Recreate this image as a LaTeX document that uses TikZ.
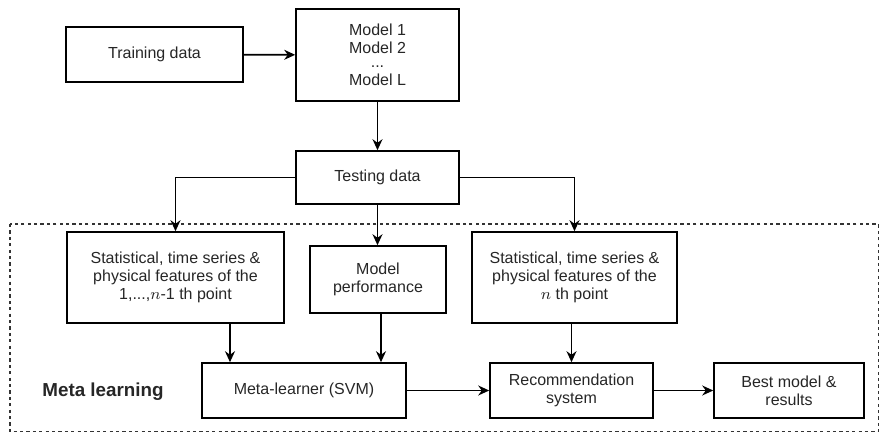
\documentclass[tikz,border=0pt]{standalone}
\usepackage{fontspec}
\setmainfont{Liberation Sans}
\usetikzlibrary{arrows.meta}
\begin{document}
\begin{tikzpicture}[x=0.5pt,y=-0.5pt,
  box/.style={draw, line width=0.8pt, rectangle, align=center, inner sep=0pt,
    font=\fontsize{8}{9}\selectfont},
  conn/.style={line width=0.8pt, -{Stealth[length=5.5pt,width=5pt]}},
  every node/.style={text=black!85}]
\useasboundingbox (0,0) rectangle (880,434);
\draw[line width=0.6pt, dash pattern=on 1.6pt off 1.6pt, black!80] (10,224) rectangle (878.5,431.5);
\node[box, minimum width=88.5pt, minimum height=27.5pt] (train) at (154.5,54.5) {Training data};
\node[box, minimum width=81.5pt, minimum height=46pt] (models) at (377.5,55) {Model 1\\Model 2\\[-2pt]...\\Model L};
\node[box, minimum width=81.5pt, minimum height=26.5pt] (test) at (377.5,177.5) {Testing data};
\node[box, minimum width=108.5pt, minimum height=45.5pt] (stat1) at (175.5,277.5) {Statistical, time series \&\\physical features of the\\1,...,$n$-1 th point};
\node[box, minimum width=68pt, minimum height=33.5pt] (perf) at (378,279.5) {Model\\performance};
\node[box, minimum width=102.5pt, minimum height=45.5pt] (statn) at (574.5,277.5) {Statistical, time series \&\\physical features of the\\$n$ th point};
\node[box, minimum width=102pt, minimum height=27.5pt] (meta) at (304,390.5) {Meta-learner (SVM)};
\node[box, minimum width=81.5pt, minimum height=27.5pt] (rec) at (571.5,390.5) {Recommendation\\system};
\node[box, minimum width=75pt, minimum height=27.5pt] (best) at (789,390.5) {Best model \&\\results};
\node[font=\fontsize{9.4}{11}\selectfont\bfseries] (label) at (103,392) {Meta learning};
\coordinate (c1) at (230,0);
\coordinate (c2) at (381,0);
\draw[conn] (train) -- (models);
\draw[conn] (models) -- (test);
\draw[conn] (test.west) -| (stat1.north);
\draw[conn] (test.east) -| (statn.north);
\draw[conn] (test.south) -- (test.south |- perf.north);
\draw[conn] (c1 |- stat1.south) -- (c1 |- meta.north);
\draw[conn] (c2 |- perf.south) -- (c2 |- meta.north);
\draw[conn] (rec.north |- statn.south) -- (rec.north);
\draw[conn] (meta) -- (rec);
\draw[conn] (rec) -- (best);
\end{tikzpicture}
\end{document}
